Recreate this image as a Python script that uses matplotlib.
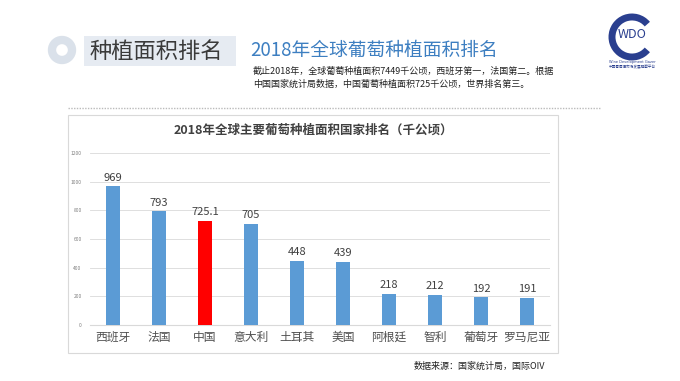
"""Recreate slide: 2018 global vineyard area ranking."""

import matplotlib.pyplot as plt
from matplotlib.patches import Circle, Rectangle, Arc

plt.rcParams["font.family"] = ["Noto Sans CJK SC", "DejaVu Sans"]

countries = ["西班牙", "法国", "中国", "意大利", "土耳其", "美国", "阿根廷", "智利", "葡萄牙", "罗马尼亚"]
area = [969, 793, 725.1, 705, 448, 439, 218, 212, 192, 191]
labels = ["969", "793", "725.1", "705", "448", "439", "218", "212", "192", "191"]
highlight = "中国"
yticks = [0, 200, 400, 600, 800, 1000, 1200]

W, H = 680, 381
fig = plt.figure(figsize=(W / 100, H / 100), dpi=100)
fig.patch.set_facecolor("white")

# overlay in pixel coordinates for the slide decoration
bg = fig.add_axes([0, 0, 1, 1])
bg.set_xlim(0, W)
bg.set_ylim(H, 0)
bg.axis("off")

bg.add_patch(Circle((62, 50), 10, facecolor="none", edgecolor="#dae1ea", linewidth=6))
bg.add_patch(Rectangle((84, 36), 152, 30, facecolor="#e6ebf2", edgecolor="none"))
bg.text(90, 51, "种植面积排名", fontsize=16, color="#3a3a3a", va="center", ha="left")
bg.text(250, 50, "2018年全球葡萄种植面积排名", fontsize=13.5, color="#3d7fc1",
        va="center", ha="left")
bg.text(253, 71, "截止2018年，全球葡萄种植面积7449千公顷，西班牙第一，法国第二。根据",
        fontsize=6.5, color="#222222", va="center", ha="left")
bg.text(253, 84, "中国国家统计局数据，中国葡萄种植面积725千公顷，世界排名第三。",
        fontsize=6.5, color="#222222", va="center", ha="left")

# WDO logo
bg.add_patch(Arc((632, 37), 40, 40, theta1=40, theta2=320, color="#2a3f8f", linewidth=5))
bg.text(632, 35, "WDO", fontsize=9, color="#2a3f8f", ha="center", va="center")
bg.text(632, 62, "Wine Development Gazer", fontsize=2.6, color="#2a3f8f", ha="center",
        va="center", family="DejaVu Sans")
bg.text(632, 67, "中国葡萄酒市场发展观察平台", fontsize=2.6, color="#2a3f8f", ha="center",
        va="center")

bg.plot([68, 600], [108, 108], color="#bbbbbb", linewidth=1, linestyle=(0, (1, 1)))

# chart frame
bg.add_patch(Rectangle((68, 115), 490, 238, facecolor="white", edgecolor="#d9d9d9",
                       linewidth=0.8))
bg.text(313, 130, "2018年全球主要葡萄种植面积国家排名（千公顷）", fontsize=9,
        fontweight="bold", color="#404040", ha="center", va="center")
bg.text(545, 366, "数据来源：国家统计局，国际OIV", fontsize=6.5, color="#222222",
        ha="right", va="center")

# bar chart
ax = fig.add_axes([90 / W, 1 - 325 / H, 460 / W, 172 / H])
ax.set_zorder(2)
ax.patch.set_alpha(0)
x = list(range(len(countries)))
colors = ["#ff0000" if c == highlight else "#5b9bd5" for c in countries]
ax.bar(x, area, width=0.3, color=colors, zorder=3)
for xi, v, t in zip(x, area, labels):
    ax.text(xi, v + 25, t, ha="center", va="bottom", fontsize=8, color="#404040")
ax.set_xlim(-0.5, 9.5)
ax.set_ylim(0, 1200)
ax.set_yticks(yticks)
ax.set_yticklabels([str(t) for t in yticks], fontsize=3.5, color="#7f7f7f")
ax.set_xticks(x)
ax.set_xticklabels(countries, fontsize=8.5, color="#505050")
ax.tick_params(length=0, pad=4)
ax.tick_params(axis="y", pad=6)
ax.grid(axis="y", color="#d9d9d9", linewidth=0.6, zorder=0)
for s in ["top", "right", "left"]:
    ax.spines[s].set_visible(False)
ax.spines["bottom"].set_color("#d9d9d9")

fig.savefig("out.png", dpi=100)
